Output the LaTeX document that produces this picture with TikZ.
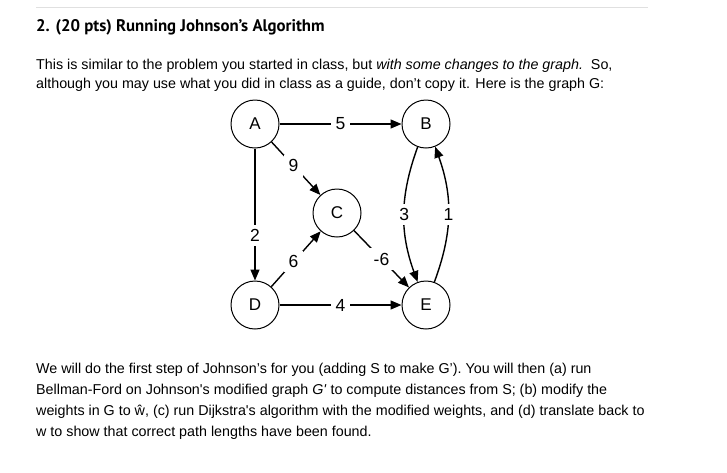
\documentclass[tikz,border=0pt]{standalone}
\usepackage{fontspec}
\setmainfont{Liberation Sans}[Ligatures=TeXOff]
\newfontfamily\titlefont{PT Sans}
\usetikzlibrary{arrows.meta}
\begin{document}
\begin{tikzpicture}[x=1pt,y=1pt,
  vtx/.style={circle,draw,line width=1pt,minimum size=48pt,inner sep=0pt,font=\fontsize{17}{19}\selectfont},
  edge/.style={line width=1.4pt,-{Triangle[length=11pt,width=9pt]}},
  lbl/.style={fill=white,inner sep=4.5pt,font=\fontsize{17.5}{19}\selectfont},
  body/.style={anchor=base west,inner sep=0pt,font=\fontsize{14.3}{16}\selectfont},
  ttl/.style={anchor=base west,inner sep=0pt,font=\titlefont\bfseries\fontsize{16.8}{19}\selectfont},
  rule/.style={line width=1pt,black!12}
  ]
\fill[white] (0,0) rectangle (727,-472);
\useasboundingbox (0,0) rectangle (727,-472);
\coordinate (r1) at (36,-7);
\coordinate (r2) at (648,-7);
\draw[rule] (r1) -- (r2);
\node[ttl] (title) at (36,-31) {2. (20 pts) Running Johnson’s Algorithm};
\node[body] (p1) at (36,-69) {This is similar to the problem you started in class, but \textit{with some changes to the graph.}\ \ So,};
\node[body] (p2) at (36,-88) {although you may use what you did in class as a guide, don’t copy it. Here is the graph G:};

\node[vtx] (A) at (255,-124) {A};
\node[vtx] (B) at (426,-124) {B};
\node[vtx] (C) at (337,-213) {C};
\node[vtx] (D) at (255,-305) {D};
\node[vtx] (E) at (426,-305) {E};

\draw[edge] (A) -- node[lbl]{5} (B);
\draw[edge] (A) -- node[lbl,pos=0.45]{9} (C);
\draw[edge] (A) -- node[lbl,pos=0.66]{2} (D);
\draw[edge] (D) -- node[lbl,pos=0.45]{6} (C);
\draw[edge] (C) -- node[lbl]{-6} (E);
\draw[edge] (D) -- node[lbl]{4} (E);
\draw[edge] (B.250) to[bend right=20] node[lbl]{3} (E.110);
\draw[edge] (E.70) to[bend right=20] node[lbl]{1} (B.292);

\node[body] (q1) at (36,-373) {We will do the first step of Johnson’s for you (adding S to make G’). You will then (a) run};
\node[body] (q2) at (36,-394) {Bellman-Ford on Johnson's modified graph \textit{G'} to compute distances from S; (b) modify the};
\node[body] (q3) at (36,-415) {weights in G to ŵ, (c) run Dijkstra's algorithm with the modified weights, and (d) translate back to};
\node[body] (q4) at (36,-436) {w to show that correct path lengths have been found.};
\end{tikzpicture}
\end{document}
